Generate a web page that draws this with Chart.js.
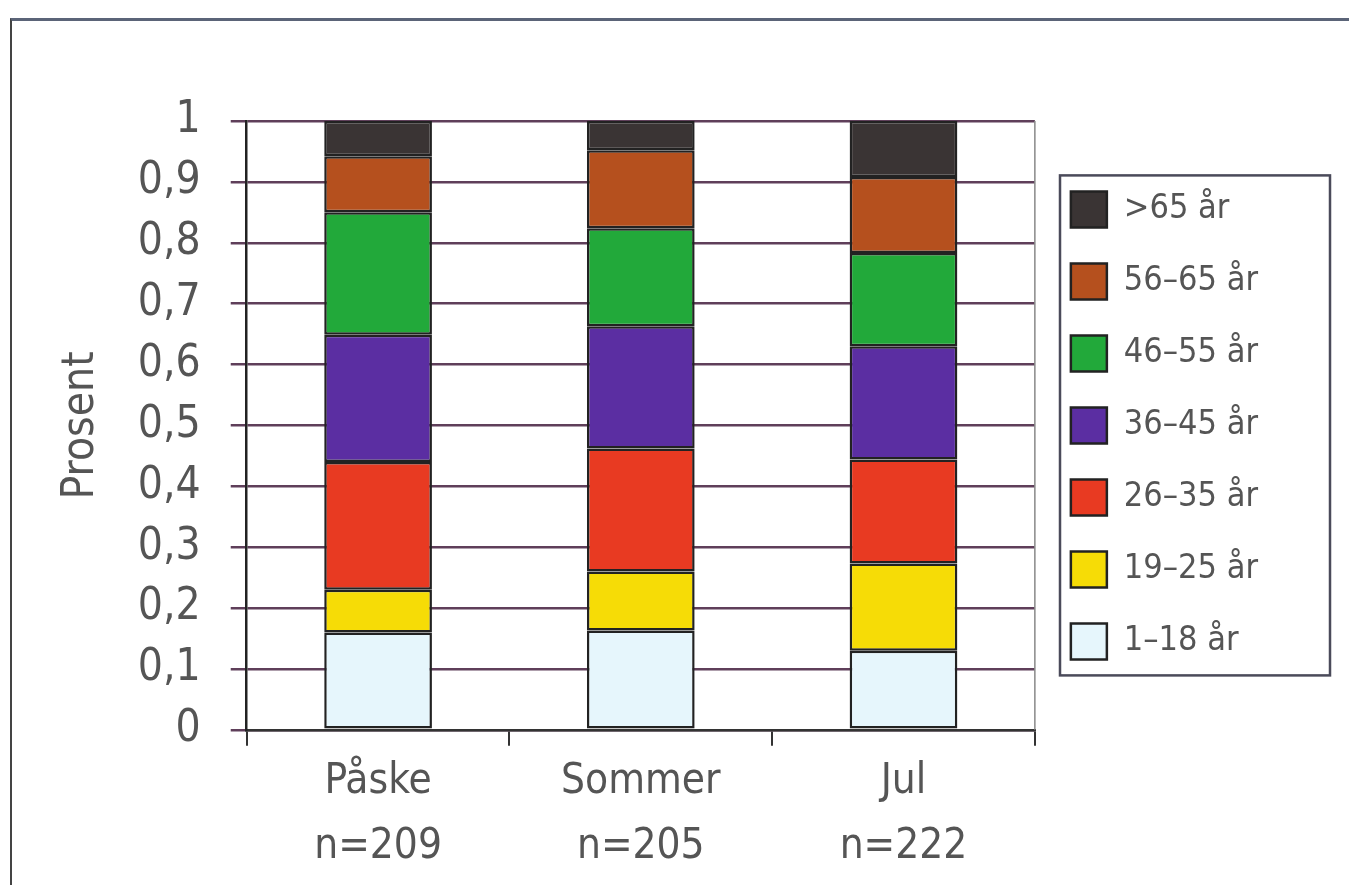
<!DOCTYPE html>
<html>
<head>
<meta charset="utf-8">
<script src="https://cdn.jsdelivr.net/npm/chart.js@4"></script>
<style>
  html, body { margin: 0; padding: 0; background: #fff; }
  #wrap { position: relative; width: 1349px; height: 885px; }
  #frame { position: absolute; left: 10px; top: 18px; right: 0; bottom: 0;
           border-top: 3px solid #5b6478; border-left: 2px solid #444; }
  canvas { position: absolute; left: 0; top: 0; }
</style>
</head>
<body>
<div id="wrap">
  <div id="frame"></div>
  <canvas id="ageChart" width="1349" height="885"></canvas>
</div>
<script>
const categories = [['Påske', 'n=209'], ['Sommer', 'n=205'], ['Jul', 'n=222']];
const groups = ['1–18 år', '19–25 år', '26–35 år', '36–45 år', '46–55 år', '56–65 år', '>65 år'];
// share of each age group per season
const age1_18  = [0.16, 0.163, 0.13];
const age19_25 = [0.07, 0.097, 0.143];
const age26_35 = [0.21, 0.202, 0.171];
const age36_45 = [0.209, 0.201, 0.186];
const age46_55 = [0.201, 0.161, 0.153];
const age56_65 = [0.092, 0.128, 0.125];
const age65    = [0.058, 0.048, 0.092];
const yTicks = [0, 0.1, 0.2, 0.3, 0.4, 0.5, 0.6, 0.7, 0.8, 0.9, 1];

const colours = ['#e6f6fc', '#f6dc06', '#e83a22', '#5b2ea2', '#22a93a', '#b5501e', '#3a3434'];
const series = [age1_18, age19_25, age26_35, age36_45, age46_55, age56_65, age65];

const font = 'DejaVu Sans Condensed, DejaVu Sans, sans-serif';
const grey = '#555';

const datasets = series.map((vals, i) => ({
    label: groups[i],
    data: vals,
    backgroundColor: colours[i],
    borderColor: '#222',
    borderWidth: 2.5,
    borderSkipped: false,
    barPercentage: 0.41,
    categoryPercentage: 1
}));

// box round the legend and right edge of the plot
const frames = {
    id: 'frames',
    afterDraw(chart) {
        const c = chart.ctx;
        const a = chart.chartArea;
        c.save();
        c.strokeStyle = '#888';
        c.lineWidth = 1.5;
        c.beginPath();
        c.moveTo(a.right, a.top);
        c.lineTo(a.right, a.bottom);
        c.stroke();
        const boxes = chart.legend.legendHitBoxes;
        if (boxes.length) {
            const top = Math.min(...boxes.map(b => b.top));
            const bottom = Math.max(...boxes.map(b => b.top + b.height));
            c.strokeStyle = '#4a4a5a';
            c.lineWidth = 2.5;
            c.strokeRect(1060, top - 16, 270, bottom - top + 32);
        }
        c.restore();
    }
};

new Chart(document.getElementById('ageChart'), {
    type: 'bar',
    data: { labels: categories, datasets: datasets },
    options: {
        responsive: false,
        animation: false,
        layout: { padding: { top: 121, left: 55, right: 81, bottom: 1 } },
        plugins: {
            tooltip: { enabled: false },
            legend: {
                position: 'right',
                reverse: true,
                fullSize: false,
                labels: {
                    color: grey,
                    font: { family: font, size: 34 },
                    boxWidth: 36,
                    boxHeight: 36,
                    padding: 36
                }
            }
        },
        scales: {
            x: {
                stacked: true,
                grid: { drawOnChartArea: false, color: '#333', lineWidth: 2, tickLength: 16, offset: true },
                border: { color: '#333', width: 2.5 },
                ticks: { color: grey, font: { family: font, size: 42, lineHeight: 1.55 }, padding: 4 }
            },
            y: {
                stacked: true,
                min: 0,
                max: 1,
                afterBuildTicks: axis => { axis.ticks = yTicks.map(v => ({ value: v })); },
                grid: { color: '#5f3f5a', lineWidth: 2.5, tickLength: 16 },
                border: { color: '#222', width: 2.5 },
                ticks: {
                    color: grey,
                    font: { family: font, size: 44 },
                    padding: 30,
                    callback: v => String(Math.round(v * 10) / 10).replace('.', ',')
                },
                title: { display: true, text: 'Prosent', color: grey, font: { family: font, size: 44 }, padding: { top: 0, bottom: 0 } }
            }
        }
    },
    plugins: [frames]
});
</script>
</body>
</html>
